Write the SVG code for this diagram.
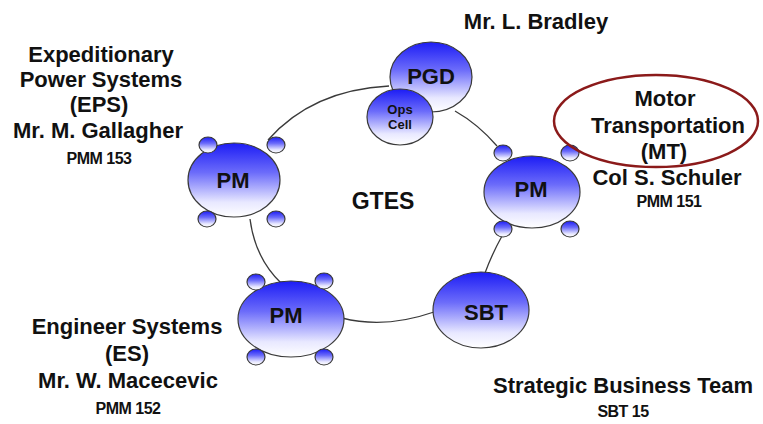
<svg xmlns="http://www.w3.org/2000/svg" width="763" height="424" viewBox="0 0 763 424">
<defs>
<linearGradient id="g" x1="0" y1="0" x2="0" y2="1">
<stop offset="0" stop-color="#1c1cf5"/>
<stop offset="0.4" stop-color="#6c6cfa"/>
<stop offset="0.8" stop-color="#e8e8ff"/>
<stop offset="1" stop-color="#ffffff"/>
</linearGradient>
<style>
.n{fill:url(#g);stroke:#3a3a3a;stroke-width:1.2}
.c{fill:none;stroke:#3a3a3a;stroke-width:1.3}
.t{font-family:"Liberation Sans",Arial,sans-serif;font-weight:bold;fill:#111;text-anchor:middle}
.big{font-size:22px}
.sm{font-size:16px;letter-spacing:-0.5px}
.ops{font-size:13px}
</style>
</defs>
<rect width="763" height="424" fill="#ffffff"/>
<g id="connectors">
<path class="c" d="M389,86 Q312,90 268,140"/>
<path class="c" d="M250,219 Q255,258 281,283"/>
<path class="c" d="M342,318 Q385,329 434,312"/>
<path class="c" d="M485,273 Q492,254 502,236"/>
<path class="c" d="M455,111 Q478,124 497,146"/>
</g>
<g id="pgd">
<ellipse class="n" cx="431" cy="77" rx="41" ry="35"/>
<text class="t big" x="431" y="84">PGD</text>
</g>
<g id="opscell">
<ellipse class="n" cx="400" cy="117" rx="33" ry="28"/>
<text class="t ops" x="400" y="114">Ops</text>
<text class="t ops" x="400" y="129">Cell</text>
</g>
<g id="pm-left">
<ellipse class="n" cx="234" cy="180" rx="46" ry="37"/>
<ellipse class="n" cx="208" cy="145" rx="9" ry="8"/>
<ellipse class="n" cx="276" cy="145" rx="9" ry="8"/>
<ellipse class="n" cx="207" cy="219" rx="9" ry="8"/>
<ellipse class="n" cx="276" cy="219" rx="9" ry="8"/>
<text class="t big" x="233" y="188">PM</text>
</g>
<g id="pm-right">
<ellipse class="n" cx="532" cy="192" rx="48" ry="36"/>
<ellipse class="n" cx="503" cy="153" rx="9" ry="8"/>
<ellipse class="n" cx="570" cy="153" rx="9" ry="8"/>
<ellipse class="n" cx="503" cy="229" rx="9" ry="8"/>
<ellipse class="n" cx="570" cy="229" rx="9" ry="8"/>
<text class="t big" x="531" y="197">PM</text>
</g>
<g id="pm-bottom">
<ellipse class="n" cx="291" cy="319" rx="53" ry="38"/>
<ellipse class="n" cx="256" cy="282" rx="9" ry="8"/>
<ellipse class="n" cx="324" cy="281" rx="9" ry="8"/>
<ellipse class="n" cx="256" cy="357" rx="9" ry="8"/>
<ellipse class="n" cx="324" cy="357" rx="9" ry="8"/>
<text class="t big" x="286" y="323">PM</text>
</g>
<g id="sbt">
<ellipse class="n" cx="481" cy="310" rx="48" ry="38"/>
<text class="t big" x="486" y="320">SBT</text>
</g>
<g id="gtes">
<text class="t big" x="383" y="209" style="font-size:23px">GTES</text>
</g>
<g id="mt-highlight">
<ellipse cx="656" cy="121" rx="102" ry="46" fill="none" stroke="#8b1a1a" stroke-width="2.5"/>
</g>
<g id="labels">
<text class="t big" x="536" y="29">Mr. L. Bradley</text>
<text class="t big" x="101" y="62">Expeditionary</text>
<text class="t big" x="101" y="87">Power Systems</text>
<text class="t big" x="99" y="112">(EPS)</text>
<text class="t big" x="98" y="138">Mr. M. Gallagher</text>
<text class="t sm" x="99" y="164">PMM 153</text>
<text class="t big" x="665" y="106">Motor</text>
<text class="t big" x="668" y="133">Transportation</text>
<text class="t big" x="664" y="159">(MT)</text>
<text class="t big" x="667" y="185">Col S. Schuler</text>
<text class="t sm" x="669" y="207">PMM 151</text>
<text class="t big" x="127" y="334">Engineer Systems</text>
<text class="t big" x="127" y="361">(ES)</text>
<text class="t big" x="128" y="388">Mr. W. Macecevic</text>
<text class="t sm" x="128" y="414">PMM 152</text>
<text class="t big" x="623" y="393">Strategic Business Team</text>
<text class="t sm" x="623" y="417">SBT 15</text>
</g>
</svg>
